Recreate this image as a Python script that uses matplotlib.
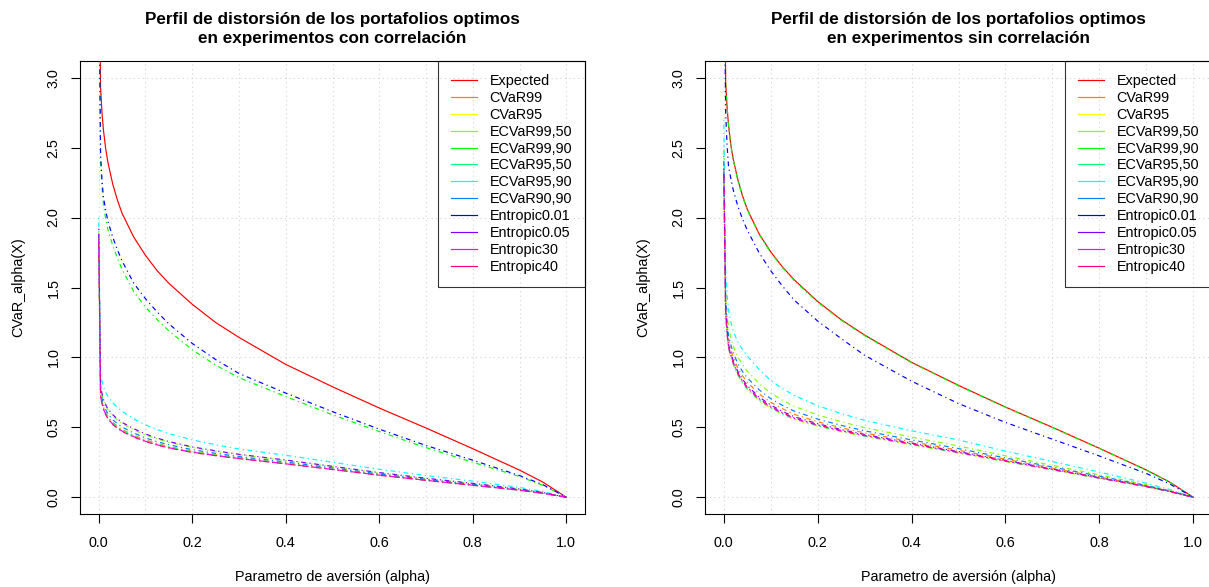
import numpy as np
import matplotlib
matplotlib.use("Agg")
import matplotlib.pyplot as plt
from matplotlib.lines import Line2D

plt.rcParams['font.family'] = ['Liberation Sans', 'DejaVu Sans']

# ---------------------------------------------------------------- data
alpha = [0, 0.004, 0.007, 0.01, 0.015, 0.02, 0.03, 0.04, 0.05, 0.075, 0.1, 0.125,
         0.15, 0.2, 0.25, 0.3, 0.4, 0.5, 0.6, 0.7, 0.8, 0.9, 0.95, 1.0]

labels = ["Expected", "CVaR99", "CVaR95", "ECVaR99,50", "ECVaR99,90",
          "ECVaR95,50", "ECVaR95,90", "ECVaR90,90", "Entropic0.01",
          "Entropic0.05", "Entropic30", "Entropic40"]

colors = ["#FF0000", "#FF8000", "#FFFF00", "#80FF00", "#00FF00", "#00FF80",
          "#00FFFF", "#0080FF", "#0000FF", "#8000FF", "#FF00FF", "#FF0080"]

# experiments with correlation
con_expected = [4.40, 2.93, 2.75, 2.63, 2.49, 2.39, 2.24, 2.125, 2.03, 1.86, 1.73, 1.62,
                1.53, 1.38, 1.25, 1.143, 0.95, 0.79, 0.638, 0.495, 0.347, 0.194, 0.108, 0.0]
con_cvar99 = [1.86, 0.735, 0.686, 0.645, 0.606, 0.575, 0.535, 0.508, 0.484, 0.443, 0.41, 0.384,
              0.362, 0.329, 0.305, 0.283, 0.244, 0.203, 0.161, 0.124, 0.088, 0.052, 0.029, 0.0]
con_cvar95 = [1.85, 0.726, 0.676, 0.636, 0.596, 0.566, 0.526, 0.499, 0.476, 0.435, 0.403, 0.377,
              0.356, 0.324, 0.300, 0.279, 0.241, 0.200, 0.159, 0.121, 0.086, 0.051, 0.028, 0.0]
con_ecvar9950 = [1.90, 0.78, 0.734, 0.69, 0.654, 0.625, 0.58, 0.553, 0.528, 0.482, 0.446, 0.417,
                 0.393, 0.356, 0.328, 0.304, 0.263, 0.219, 0.174, 0.134, 0.097, 0.058, 0.033, 0.0]
con_ecvar9990 = [4.00, 2.40, 2.22, 2.10, 1.99, 1.91, 1.80, 1.71, 1.63, 1.47, 1.36, 1.27,
                 1.19, 1.055, 0.945, 0.855, 0.72, 0.59, 0.47, 0.355, 0.25, 0.148, 0.085, 0.0]
con_ecvar9550 = [1.86, 0.73, 0.68, 0.64, 0.60, 0.57, 0.529, 0.502, 0.479, 0.438, 0.405, 0.380,
                 0.358, 0.325, 0.302, 0.280, 0.242, 0.201, 0.160, 0.122, 0.087, 0.051, 0.029, 0.0]
con_ecvar9590 = [2.00, 0.88, 0.83, 0.79, 0.75, 0.72, 0.675, 0.642, 0.615, 0.56, 0.518, 0.484,
                 0.455, 0.41, 0.375, 0.345, 0.30, 0.25, 0.20, 0.155, 0.115, 0.07, 0.04, 0.0]
con_ecvar9090 = [1.88, 0.755, 0.705, 0.665, 0.625, 0.595, 0.554, 0.526, 0.502, 0.459, 0.424, 0.397,
                 0.375, 0.34, 0.314, 0.291, 0.252, 0.21, 0.166, 0.128, 0.092, 0.054, 0.031, 0.0]
con_entropic001 = [4.00, 2.45, 2.27, 2.15, 2.05, 1.97, 1.86, 1.77, 1.69, 1.53, 1.42, 1.325,
                   1.24, 1.10, 0.985, 0.885, 0.745, 0.612, 0.487, 0.37, 0.265, 0.155, 0.09, 0.0]
con_entropic005 = [1.92, 0.79, 0.742, 0.70, 0.662, 0.63, 0.59, 0.56, 0.535, 0.49, 0.452, 0.423,
                   0.398, 0.36, 0.332, 0.307, 0.266, 0.221, 0.176, 0.136, 0.099, 0.059, 0.033, 0.0]
con_entropic30 = [1.88, 0.723, 0.673, 0.633, 0.593, 0.563, 0.523, 0.496, 0.473, 0.433, 0.40, 0.375,
                  0.354, 0.322, 0.299, 0.277, 0.239, 0.199, 0.158, 0.121, 0.086, 0.05, 0.028, 0.0]
con_entropic40 = [1.85, 0.72, 0.67, 0.63, 0.59, 0.56, 0.52, 0.493, 0.47, 0.43, 0.398, 0.373,
                  0.352, 0.32, 0.297, 0.276, 0.238, 0.198, 0.157, 0.12, 0.085, 0.05, 0.028, 0.0]

# experiments without correlation
sin_expected = [4.50, 2.97, 2.79, 2.665, 2.52, 2.42, 2.27, 2.155, 2.06, 1.885, 1.755, 1.647,
                1.555, 1.40, 1.27, 1.16, 0.965, 0.80, 0.645, 0.50, 0.35, 0.195, 0.108, 0.0]
sin_cvar99 = [2.39, 1.37, 1.224, 1.122, 1.056, 1.003, 0.923, 0.868, 0.823, 0.74, 0.679, 0.633,
              0.593, 0.54, 0.497, 0.46, 0.397, 0.336, 0.272, 0.208, 0.145, 0.081, 0.043, 0.0]
sin_cvar95 = [2.30, 1.30, 1.16, 1.06, 1.0, 0.95, 0.87, 0.815, 0.77, 0.69, 0.635, 0.592,
              0.555, 0.508, 0.468, 0.435, 0.375, 0.315, 0.255, 0.195, 0.135, 0.075, 0.04, 0.0]
sin_ecvar9950 = [2.52, 1.476, 1.32, 1.214, 1.14, 1.082, 1.002, 0.947, 0.902, 0.814, 0.745, 0.694,
                 0.65, 0.589, 0.54, 0.498, 0.43, 0.367, 0.296, 0.228, 0.16, 0.089, 0.048, 0.0]
sin_ecvar9990 = [4.50, 2.96, 2.785, 2.66, 2.515, 2.415, 2.265, 2.15, 2.055, 1.88, 1.75, 1.642,
                 1.55, 1.395, 1.266, 1.156, 0.962, 0.797, 0.643, 0.498, 0.349, 0.194, 0.107, 0.0]
sin_ecvar9550 = [2.31, 1.306, 1.166, 1.066, 1.005, 0.955, 0.875, 0.82, 0.775, 0.695, 0.639, 0.596,
                 0.558, 0.511, 0.471, 0.437, 0.377, 0.317, 0.257, 0.196, 0.136, 0.076, 0.04, 0.0]
sin_ecvar9590 = [2.70, 1.62, 1.45, 1.34, 1.255, 1.19, 1.11, 1.055, 1.01, 0.915, 0.835, 0.777,
                 0.728, 0.655, 0.598, 0.55, 0.475, 0.41, 0.33, 0.255, 0.18, 0.10, 0.055, 0.0]
sin_ecvar9090 = [2.44, 1.412, 1.262, 1.158, 1.089, 1.034, 0.954, 0.899, 0.854, 0.769, 0.705, 0.657,
                 0.616, 0.559, 0.514, 0.475, 0.41, 0.348, 0.281, 0.216, 0.151, 0.084, 0.045, 0.0]
sin_entropic001 = [4.30, 2.75, 2.52, 2.37, 2.28, 2.20, 2.08, 1.99, 1.91, 1.75, 1.62, 1.51,
                   1.41, 1.26, 1.135, 1.015, 0.83, 0.67, 0.535, 0.415, 0.295, 0.17, 0.095, 0.0]
sin_entropic005 = [2.35, 1.338, 1.195, 1.094, 1.031, 0.979, 0.899, 0.844, 0.799, 0.717, 0.659, 0.614,
                   0.576, 0.526, 0.484, 0.449, 0.387, 0.326, 0.264, 0.202, 0.14, 0.078, 0.042, 0.0]
sin_entropic30 = [2.32, 1.316, 1.175, 1.074, 1.013, 0.962, 0.882, 0.827, 0.782, 0.701, 0.645, 0.601,
                  0.564, 0.515, 0.475, 0.441, 0.38, 0.32, 0.259, 0.198, 0.137, 0.076, 0.041, 0.0]
sin_entropic40 = [2.33, 1.322, 1.18, 1.08, 1.018, 0.967, 0.887, 0.832, 0.787, 0.706, 0.649, 0.605,
                  0.567, 0.518, 0.477, 0.443, 0.382, 0.322, 0.26, 0.199, 0.138, 0.077, 0.041, 0.0]

con_series = [con_expected, con_cvar99, con_cvar95, con_ecvar9950, con_ecvar9990,
              con_ecvar9550, con_ecvar9590, con_ecvar9090, con_entropic001,
              con_entropic005, con_entropic30, con_entropic40]
sin_series = [sin_expected, sin_cvar99, sin_cvar95, sin_ecvar9950, sin_ecvar9990,
              sin_ecvar9550, sin_ecvar9590, sin_ecvar9090, sin_entropic001,
              sin_entropic005, sin_entropic30, sin_entropic40]

titles = ["Perfil de distorsión de los portafolios optimos\nen experimentos con correlación",
          "Perfil de distorsión de los portafolios optimos\nen experimentos sin correlación"]
xlabel = "Parametro de aversión (alpha)"
ylabel = "CVaR_alpha(X)"
xticks = [0.0, 0.2, 0.4, 0.6, 0.8, 1.0]
yticks = [0.0, 0.5, 1.0, 1.5, 2.0, 2.5, 3.0]

# ---------------------------------------------------------------- figure
W, H = 1209, 587
fig = plt.figure(figsize=(W / 100, H / 100), dpi=100)
FS = 10.4
LW = 0.86
DOTDASH = (0, (1, 3, 4, 3))


def add_panel(x0, x1, y0, y1):
    return fig.add_axes([x0 / W, 1 - y1 / H, (x1 - x0) / W, (y1 - y0) / H])


panels = [(80, 585), (705, 1212)]
top, bottom = 61, 514

for (x0, x1), series, title in zip(panels, [con_series, sin_series], titles):
    ax = add_panel(x0, x1, top, bottom)
    ax.set_xlim(-0.04, 1.04)
    ax.set_ylim(-0.12, 3.12)

    # dotted reference grid
    for gx in np.arange(0, 1.0001, 0.1):
        ax.axvline(gx, color="#d3d3d3", lw=0.8, ls=(0, (1, 3)), zorder=1)
    for gy in [0, 1, 2, 3]:
        ax.axhline(gy, color="#d3d3d3", lw=0.8, ls=(0, (1, 3)), zorder=1)

    for vals, col, lab in zip(series, colors, labels):
        ls = "-" if lab == "Expected" else DOTDASH
        ax.plot(alpha, vals, color=col, lw=LW, ls=ls, zorder=2)

    for s in ax.spines.values():
        s.set_linewidth(0.8)
        s.set_color("black")

    ax.set_xticks(xticks)
    ax.set_xticklabels([f"{t:.1f}" for t in xticks])
    ax.set_yticks(yticks)
    ax.set_yticklabels([f"{t:.1f}" for t in yticks], rotation=90, va="center")
    ax.tick_params(direction="out", length=6.5, width=0.8, labelsize=FS,
                   color="black")
    ax.tick_params(axis="x", pad=9.0)
    ax.tick_params(axis="y", pad=7.5)

    handles = [Line2D([], [], color=c, lw=LW) for c in colors]
    leg = ax.legend(handles, labels, loc="upper right", bbox_to_anchor=(1, 1),
                    borderaxespad=0, fancybox=False, edgecolor="black",
                    facecolor="none", fontsize=FS, handlelength=1.85,
                    handletextpad=0.85, labelspacing=0.2, borderpad=0.9)
    leg.get_frame().set_linewidth(0.8)

    cx = (x0 + x1) / 2
    fig.text(cx / W, 1 - 29 / H, title, ha="center", va="center",
             fontsize=12.3, fontweight="bold", linespacing=1.35)
    fig.text(cx / W, 1 - 577 / H, xlabel, ha="center", va="center", fontsize=FS)
    fig.text((x0 - 62) / W, 1 - ((top + bottom) / 2) / H, ylabel, ha="center",
             va="center", rotation=90, fontsize=FS)

fig.savefig("out.png", dpi=100)
